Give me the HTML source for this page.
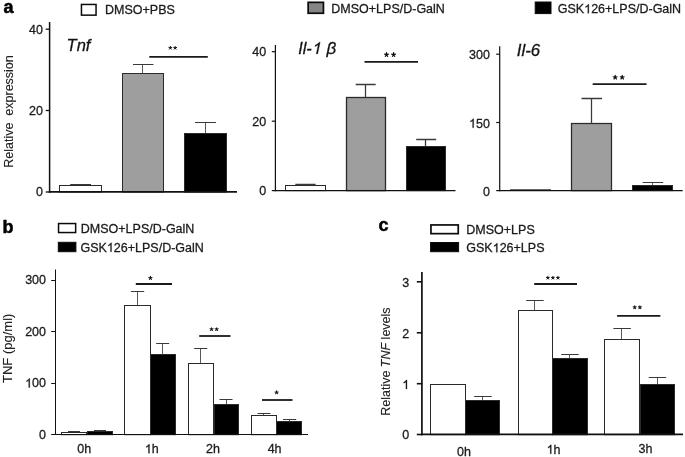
<!DOCTYPE html>
<html><head><meta charset="utf-8"><title>Figure</title>
<style>
html,body{margin:0;padding:0;background:#fff;}
body{width:685px;height:457px;overflow:hidden;font-family:"Liberation Sans",sans-serif;}
svg{display:block;filter:grayscale(1);will-change:transform;font-family:"Liberation Sans",sans-serif;}
</style></head><body>
<svg width="685" height="457" viewBox="0 0 685 457">
<rect width="685" height="457" fill="#fff"/>
<text x="3.60" y="12.9" font-size="18" text-anchor="start" font-style="normal" font-weight="bold" fill="#000" stroke="#000" stroke-width="0.5" >a</text>
<rect x="81.45" y="4.45" width="14.60" height="10.70" fill="#fff" stroke="#0a0a0a" stroke-width="1.5"/>
<text x="105.00" y="14.3" font-size="12.5" text-anchor="start" font-style="normal" font-weight="normal" fill="#1a1a1a" stroke="#1a1a1a" stroke-width="0.28" >DMSO+PBS</text>
<rect x="308.15" y="2.35" width="15.30" height="10.90" fill="#858585" stroke="#0a0a0a" stroke-width="1.7"/>
<text x="331.30" y="13.4" font-size="12.5" text-anchor="start" font-style="normal" font-weight="normal" fill="#1a1a1a" stroke="#1a1a1a" stroke-width="0.28" >DMSO+LPS/D-GalN</text>
<rect x="535.20" y="2.00" width="15.80" height="11.60" fill="#000" stroke="#0a0a0a" stroke-width="1.0"/>
<text x="557.80" y="13.3" font-size="12.5" text-anchor="start" font-style="normal" font-weight="normal" fill="#1a1a1a" stroke="#1a1a1a" stroke-width="0.28" >GSK</text>
<path transform="translate(584.21,13.3) scale(0.00610,-0.00610)" d="M763 0H583V1147Q518 1085 412.5 1023Q307 961 223 930V1104Q374 1175 487 1276Q600 1377 647 1472H763Z" fill="#1a1a1a" stroke="#1a1a1a" stroke-width="45.9"/>
<text x="591.16" y="13.3" font-size="12.5" text-anchor="start" font-style="normal" font-weight="normal" fill="#1a1a1a" stroke="#1a1a1a" stroke-width="0.28" >26+LPS/D-GalN</text>
<text transform="translate(13.3,111.5) rotate(-90)" font-size="12.5" text-anchor="middle" fill="#222" stroke="#222" stroke-width="0.12">Relative&#160; expression</text>
<rect x="59.5" y="185.5" width="42.00" height="6.50" fill="#fff" stroke="#2a2a2a" stroke-width="1"/>
<line x1="80.5" y1="184.5" x2="80.5" y2="185.5" stroke="#3a3a3a" stroke-width="0.85" stroke-linecap="butt"/>
<line x1="70.2" y1="184.5" x2="91" y2="184.5" stroke="#3a3a3a" stroke-width="1" stroke-linecap="butt"/>
<rect x="122.5" y="73.5" width="41.00" height="118.50" fill="#9e9e9e" stroke="#2a2a2a" stroke-width="1"/>
<line x1="142.5" y1="64.5" x2="142.5" y2="73.5" stroke="#3a3a3a" stroke-width="0.85" stroke-linecap="butt"/>
<line x1="133" y1="64.5" x2="153.5" y2="64.5" stroke="#3a3a3a" stroke-width="1" stroke-linecap="butt"/>
<rect x="184.5" y="133.5" width="42.00" height="58.50" fill="#000" stroke="#2a2a2a" stroke-width="1"/>
<line x1="205.5" y1="122.5" x2="205.5" y2="133.5" stroke="#3a3a3a" stroke-width="0.85" stroke-linecap="butt"/>
<line x1="195" y1="122.5" x2="216" y2="122.5" stroke="#3a3a3a" stroke-width="1" stroke-linecap="butt"/>
<line x1="49.6" y1="22" x2="49.6" y2="192.8" stroke="#111" stroke-width="1.5" stroke-linecap="butt"/>
<line x1="48.75" y1="191.9" x2="237" y2="191.9" stroke="#111" stroke-width="1.9" stroke-linecap="butt"/>
<line x1="45.7" y1="29.2" x2="49.4" y2="29.2" stroke="#111" stroke-width="1.3" stroke-linecap="butt"/>
<text x="43.00" y="33.675" font-size="12.5" text-anchor="end" font-style="normal" font-weight="normal" fill="#1a1a1a" stroke="#1a1a1a" stroke-width="0.28" >40</text>
<line x1="45.7" y1="110.5" x2="49.4" y2="110.5" stroke="#111" stroke-width="1.3" stroke-linecap="butt"/>
<text x="43.00" y="114.975" font-size="12.5" text-anchor="end" font-style="normal" font-weight="normal" fill="#1a1a1a" stroke="#1a1a1a" stroke-width="0.28" >20</text>
<line x1="45.7" y1="192.0" x2="49.4" y2="192.0" stroke="#111" stroke-width="1.3" stroke-linecap="butt"/>
<text x="43.00" y="196.475" font-size="12.5" text-anchor="end" font-style="normal" font-weight="normal" fill="#1a1a1a" stroke="#1a1a1a" stroke-width="0.28" >0</text>
<text x="66.60" y="51.0" font-size="16.5" text-anchor="start" font-style="italic" font-weight="normal" fill="#111" stroke="#111" stroke-width="0.28" >Tnf</text>
<line x1="149.3" y1="56.9" x2="207.8" y2="56.9" stroke="#1a1a1a" stroke-width="1.8" stroke-linecap="butt"/>
<path d="M170.35 47.95L170.35 46.41M170.35 47.95L171.81 47.47M170.35 47.95L171.25 49.19M170.35 47.95L169.45 49.19M170.35 47.95L168.89 47.47" stroke="#111" stroke-width="0.99" stroke-linecap="round" fill="none"/>
<path d="M175.15 47.95L175.15 46.41M175.15 47.95L176.61 47.47M175.15 47.95L176.05 49.19M175.15 47.95L174.25 49.19M175.15 47.95L173.69 47.47" stroke="#111" stroke-width="0.99" stroke-linecap="round" fill="none"/>
<rect x="285.5" y="185.5" width="40.00" height="5.10" fill="#fff" stroke="#2a2a2a" stroke-width="1"/>
<line x1="305.5" y1="184.5" x2="305.5" y2="185.5" stroke="#3a3a3a" stroke-width="1.275" stroke-linecap="butt"/>
<line x1="295.3" y1="184.5" x2="315.6" y2="184.5" stroke="#3a3a3a" stroke-width="1.5" stroke-linecap="butt"/>
<rect x="346.5" y="97.5" width="39.00" height="93.10" fill="#9e9e9e" stroke="#2a2a2a" stroke-width="1.3"/>
<line x1="365.5" y1="84.5" x2="365.5" y2="97.5" stroke="#3a3a3a" stroke-width="1.275" stroke-linecap="butt"/>
<line x1="355.7" y1="84.5" x2="375.7" y2="84.5" stroke="#3a3a3a" stroke-width="1.5" stroke-linecap="butt"/>
<rect x="406.5" y="146.5" width="39.00" height="44.10" fill="#000" stroke="#2a2a2a" stroke-width="1"/>
<line x1="425.5" y1="139.5" x2="425.5" y2="146.5" stroke="#3a3a3a" stroke-width="1.275" stroke-linecap="butt"/>
<line x1="416.2" y1="139.5" x2="436.2" y2="139.5" stroke="#3a3a3a" stroke-width="1.5" stroke-linecap="butt"/>
<line x1="275.4" y1="45.0" x2="275.4" y2="191.2" stroke="#111" stroke-width="1.2" stroke-linecap="butt"/>
<line x1="274.79999999999995" y1="190.6" x2="455.5" y2="190.6" stroke="#111" stroke-width="1.3" stroke-linecap="butt"/>
<line x1="271.8" y1="51.7" x2="275.4" y2="51.7" stroke="#111" stroke-width="1.2" stroke-linecap="butt"/>
<text x="266.20" y="56.48" font-size="12.5" text-anchor="end" font-style="normal" font-weight="normal" fill="#1a1a1a" stroke="#1a1a1a" stroke-width="0.28" >40</text>
<line x1="271.8" y1="121.2" x2="275.4" y2="121.2" stroke="#111" stroke-width="1.2" stroke-linecap="butt"/>
<text x="266.20" y="125.97" font-size="12.5" text-anchor="end" font-style="normal" font-weight="normal" fill="#1a1a1a" stroke="#1a1a1a" stroke-width="0.28" >20</text>
<line x1="271.8" y1="190.6" x2="275.4" y2="190.6" stroke="#111" stroke-width="1.2" stroke-linecap="butt"/>
<text x="266.20" y="195.38" font-size="12.5" text-anchor="end" font-style="normal" font-weight="normal" fill="#1a1a1a" stroke="#1a1a1a" stroke-width="0.28" >0</text>
<text x="298.20" y="53.9" font-size="16.3" text-anchor="start" font-style="italic" font-weight="normal" fill="#111" stroke="#111" stroke-width="0.28" >Il-</text>
<path transform="translate(311.60,53.9) skewX(-12) scale(0.00796,-0.00796)" d="M763 0H583V1147Q518 1085 412.5 1023Q307 961 223 930V1104Q374 1175 487 1276Q600 1377 647 1472H763Z" fill="#111" stroke="#111" stroke-width="35.2"/>
<text x="326.40" y="53.9" font-size="17" text-anchor="start" font-style="italic" font-weight="normal" fill="#111" stroke="#111" stroke-width="0.28" >&#946;</text>
<line x1="364.5" y1="61.9" x2="418" y2="61.9" stroke="#1a1a1a" stroke-width="1.7" stroke-linecap="butt"/>
<path d="M386.50 54.69L386.50 52.71M386.50 54.69L388.38 54.08M386.50 54.69L387.66 56.28M386.50 54.69L385.34 56.28M386.50 54.69L384.62 54.08" stroke="#111" stroke-width="1.25" stroke-linecap="round" fill="none"/>
<path d="M393.60 54.69L393.60 52.71M393.60 54.69L395.48 54.08M393.60 54.69L394.76 56.28M393.60 54.69L392.44 56.28M393.60 54.69L391.72 54.08" stroke="#111" stroke-width="1.25" stroke-linecap="round" fill="none"/>
<line x1="510" y1="189.8" x2="551" y2="189.8" stroke="#111" stroke-width="0.9" stroke-linecap="butt"/>
<rect x="571.5" y="123.5" width="40.00" height="67.10" fill="#9e9e9e" stroke="#2a2a2a" stroke-width="1.25"/>
<line x1="591.5" y1="98.5" x2="591.5" y2="123.5" stroke="#3a3a3a" stroke-width="1.275" stroke-linecap="butt"/>
<line x1="581.5" y1="98.5" x2="602" y2="98.5" stroke="#3a3a3a" stroke-width="1.5" stroke-linecap="butt"/>
<rect x="632.5" y="185.5" width="40.00" height="5.10" fill="#000" stroke="#2a2a2a" stroke-width="1"/>
<line x1="652.5" y1="182.5" x2="652.5" y2="185.5" stroke="#3a3a3a" stroke-width="0.85" stroke-linecap="butt"/>
<line x1="642.7" y1="182.5" x2="663.2" y2="182.5" stroke="#3a3a3a" stroke-width="1" stroke-linecap="butt"/>
<line x1="499.7" y1="46.2" x2="499.7" y2="191.2" stroke="#111" stroke-width="1.2" stroke-linecap="butt"/>
<line x1="499.09999999999997" y1="190.6" x2="682.7" y2="190.6" stroke="#111" stroke-width="1.3" stroke-linecap="butt"/>
<line x1="496.2" y1="54.2" x2="499.7" y2="54.2" stroke="#111" stroke-width="1.2" stroke-linecap="butt"/>
<text x="489.90" y="59.38" font-size="12.5" text-anchor="end" font-style="normal" font-weight="normal" fill="#1a1a1a" stroke="#1a1a1a" stroke-width="0.28" >300</text>
<line x1="496.2" y1="122.5" x2="499.7" y2="122.5" stroke="#111" stroke-width="1.2" stroke-linecap="butt"/>
<path transform="translate(469.04,127.67) scale(0.00610,-0.00610)" d="M763 0H583V1147Q518 1085 412.5 1023Q307 961 223 930V1104Q374 1175 487 1276Q600 1377 647 1472H763Z" fill="#1a1a1a" stroke="#1a1a1a" stroke-width="45.9"/>
<text x="475.99" y="127.67" font-size="12.5" text-anchor="start" font-style="normal" font-weight="normal" fill="#1a1a1a" stroke="#1a1a1a" stroke-width="0.28" >50</text>
<line x1="496.2" y1="190.6" x2="499.7" y2="190.6" stroke="#111" stroke-width="1.2" stroke-linecap="butt"/>
<text x="489.90" y="195.77" font-size="12.5" text-anchor="end" font-style="normal" font-weight="normal" fill="#1a1a1a" stroke="#1a1a1a" stroke-width="0.28" >0</text>
<text x="516.80" y="55.6" font-size="16.8" text-anchor="start" font-style="italic" font-weight="normal" fill="#111" stroke="#111" stroke-width="0.28" >Il-6</text>
<line x1="592.7" y1="84.2" x2="646.5" y2="84.2" stroke="#1a1a1a" stroke-width="1.7" stroke-linecap="butt"/>
<path d="M615.20 77.39L615.20 75.41M615.20 77.39L617.08 76.78M615.20 77.39L616.36 78.98M615.20 77.39L614.04 78.98M615.20 77.39L613.32 76.78" stroke="#111" stroke-width="1.25" stroke-linecap="round" fill="none"/>
<path d="M622.20 77.39L622.20 75.41M622.20 77.39L624.08 76.78M622.20 77.39L623.36 78.98M622.20 77.39L621.04 78.98M622.20 77.39L620.32 76.78" stroke="#111" stroke-width="1.25" stroke-linecap="round" fill="none"/>
<text x="2.60" y="233.3" font-size="18" text-anchor="start" font-style="normal" font-weight="bold" fill="#000" stroke="#000" stroke-width="0.5" >b</text>
<rect x="58.55" y="223.55" width="17.10" height="9.00" fill="#fff" stroke="#0a0a0a" stroke-width="1.5"/>
<text x="80.80" y="232.8" font-size="12.5" text-anchor="start" font-style="normal" font-weight="normal" fill="#1a1a1a" stroke="#1a1a1a" stroke-width="0.28" >DMSO+LPS/D-GalN</text>
<rect x="58.30" y="242.30" width="17.60" height="9.40" fill="#000" stroke="#0a0a0a" stroke-width="1.0"/>
<text x="80.50" y="251.8" font-size="12.5" text-anchor="start" font-style="normal" font-weight="normal" fill="#1a1a1a" stroke="#1a1a1a" stroke-width="0.28" >GSK</text>
<path transform="translate(106.91,251.8) scale(0.00610,-0.00610)" d="M763 0H583V1147Q518 1085 412.5 1023Q307 961 223 930V1104Q374 1175 487 1276Q600 1377 647 1472H763Z" fill="#1a1a1a" stroke="#1a1a1a" stroke-width="45.9"/>
<text x="113.86" y="251.8" font-size="12.5" text-anchor="start" font-style="normal" font-weight="normal" fill="#1a1a1a" stroke="#1a1a1a" stroke-width="0.28" >26+LPS/D-GalN</text>
<text transform="translate(12.4,348.3) rotate(-90)" font-size="13" text-anchor="middle" fill="#222" stroke="#222" stroke-width="0.12">TNF (pg/ml)</text>
<rect x="61.5" y="432.5" width="25.00" height="2.20" fill="#fff" stroke="#2a2a2a" stroke-width="1"/>
<line x1="73.5" y1="431.5" x2="73.5" y2="432.5" stroke="#3a3a3a" stroke-width="0.85" stroke-linecap="butt"/>
<line x1="68" y1="431.5" x2="80" y2="431.5" stroke="#3a3a3a" stroke-width="1" stroke-linecap="butt"/>
<rect x="87.5" y="431.5" width="25.00" height="3.20" fill="#000" stroke="#2a2a2a" stroke-width="1"/>
<line x1="99.5" y1="430.5" x2="99.5" y2="431.5" stroke="#3a3a3a" stroke-width="0.85" stroke-linecap="butt"/>
<line x1="94" y1="430.5" x2="106" y2="430.5" stroke="#3a3a3a" stroke-width="1" stroke-linecap="butt"/>
<rect x="124.5" y="305.5" width="26.00" height="129.20" fill="#fff" stroke="#2a2a2a" stroke-width="1"/>
<line x1="137.5" y1="291.5" x2="137.5" y2="305.5" stroke="#3a3a3a" stroke-width="0.85" stroke-linecap="butt"/>
<line x1="130.9" y1="291.5" x2="144.2" y2="291.5" stroke="#3a3a3a" stroke-width="1" stroke-linecap="butt"/>
<rect x="150.5" y="354.5" width="25.00" height="80.20" fill="#000" stroke="#2a2a2a" stroke-width="1"/>
<line x1="162.5" y1="343.5" x2="162.5" y2="354.5" stroke="#3a3a3a" stroke-width="0.85" stroke-linecap="butt"/>
<line x1="156.2" y1="343.5" x2="169.2" y2="343.5" stroke="#3a3a3a" stroke-width="1" stroke-linecap="butt"/>
<rect x="188.5" y="363.5" width="25.00" height="71.20" fill="#fff" stroke="#2a2a2a" stroke-width="1"/>
<line x1="200.5" y1="348.5" x2="200.5" y2="363.5" stroke="#3a3a3a" stroke-width="0.85" stroke-linecap="butt"/>
<line x1="194.2" y1="348.5" x2="207.3" y2="348.5" stroke="#3a3a3a" stroke-width="1" stroke-linecap="butt"/>
<rect x="214.5" y="404.5" width="24.00" height="30.20" fill="#000" stroke="#2a2a2a" stroke-width="1"/>
<line x1="226.5" y1="399.5" x2="226.5" y2="404.5" stroke="#3a3a3a" stroke-width="0.85" stroke-linecap="butt"/>
<line x1="219.5" y1="399.5" x2="232.5" y2="399.5" stroke="#3a3a3a" stroke-width="1" stroke-linecap="butt"/>
<rect x="251.5" y="415.5" width="25.00" height="19.20" fill="#fff" stroke="#2a2a2a" stroke-width="1"/>
<line x1="263.5" y1="413.5" x2="263.5" y2="415.5" stroke="#3a3a3a" stroke-width="0.85" stroke-linecap="butt"/>
<line x1="257.5" y1="413.5" x2="270.5" y2="413.5" stroke="#3a3a3a" stroke-width="1" stroke-linecap="butt"/>
<rect x="276.5" y="421.5" width="25.00" height="13.20" fill="#000" stroke="#2a2a2a" stroke-width="1"/>
<line x1="289.5" y1="419.5" x2="289.5" y2="421.5" stroke="#3a3a3a" stroke-width="0.85" stroke-linecap="butt"/>
<line x1="283" y1="419.5" x2="296.2" y2="419.5" stroke="#3a3a3a" stroke-width="1" stroke-linecap="butt"/>
<line x1="55.5" y1="269.5" x2="55.5" y2="435.0" stroke="#111" stroke-width="1.05" stroke-linecap="butt"/>
<line x1="55.0" y1="434.5" x2="308" y2="434.5" stroke="#111" stroke-width="1.1" stroke-linecap="butt"/>
<line x1="51.2" y1="280.5" x2="55.5" y2="280.5" stroke="#111" stroke-width="1.0" stroke-linecap="butt"/>
<text x="46.00" y="284.475" font-size="12.5" text-anchor="end" font-style="normal" font-weight="normal" fill="#1a1a1a" stroke="#1a1a1a" stroke-width="0.28" >300</text>
<line x1="51.2" y1="331.5" x2="55.5" y2="331.5" stroke="#111" stroke-width="1.0" stroke-linecap="butt"/>
<text x="46.00" y="335.875" font-size="12.5" text-anchor="end" font-style="normal" font-weight="normal" fill="#1a1a1a" stroke="#1a1a1a" stroke-width="0.28" >200</text>
<line x1="51.2" y1="383.5" x2="55.5" y2="383.5" stroke="#111" stroke-width="1.0" stroke-linecap="butt"/>
<path transform="translate(25.14,387.475) scale(0.00610,-0.00610)" d="M763 0H583V1147Q518 1085 412.5 1023Q307 961 223 930V1104Q374 1175 487 1276Q600 1377 647 1472H763Z" fill="#1a1a1a" stroke="#1a1a1a" stroke-width="45.9"/>
<text x="32.09" y="387.475" font-size="12.5" text-anchor="start" font-style="normal" font-weight="normal" fill="#1a1a1a" stroke="#1a1a1a" stroke-width="0.28" >00</text>
<line x1="51.2" y1="434.5" x2="55.5" y2="434.5" stroke="#111" stroke-width="1.0" stroke-linecap="butt"/>
<text x="46.00" y="439.175" font-size="12.5" text-anchor="end" font-style="normal" font-weight="normal" fill="#1a1a1a" stroke="#1a1a1a" stroke-width="0.28" >0</text>
<text x="84.30" y="453.2" font-size="12.5" text-anchor="middle" font-style="normal" font-weight="normal" fill="#1a1a1a" stroke="#1a1a1a" stroke-width="0.28" >0h</text>
<path transform="translate(144.85,453.2) scale(0.00610,-0.00610)" d="M763 0H583V1147Q518 1085 412.5 1023Q307 961 223 930V1104Q374 1175 487 1276Q600 1377 647 1472H763Z" fill="#1a1a1a" stroke="#1a1a1a" stroke-width="45.9"/>
<text x="151.80" y="453.2" font-size="12.5" text-anchor="start" font-style="normal" font-weight="normal" fill="#1a1a1a" stroke="#1a1a1a" stroke-width="0.28" >h</text>
<text x="212.90" y="453.2" font-size="12.5" text-anchor="middle" font-style="normal" font-weight="normal" fill="#1a1a1a" stroke="#1a1a1a" stroke-width="0.28" >2h</text>
<text x="274.60" y="453.2" font-size="12.5" text-anchor="middle" font-style="normal" font-weight="normal" fill="#1a1a1a" stroke="#1a1a1a" stroke-width="0.28" >4h</text>
<line x1="135.8" y1="284.0" x2="172" y2="284.0" stroke="#1a1a1a" stroke-width="1.8" stroke-linecap="butt"/>
<path d="M150.40 277.96L150.40 276.27M150.40 277.96L152.01 277.44M150.40 277.96L151.40 279.33M150.40 277.96L149.40 279.33M150.40 277.96L148.79 277.44" stroke="#111" stroke-width="1.08" stroke-linecap="round" fill="none"/>
<line x1="199.2" y1="336.0" x2="230.5" y2="336.0" stroke="#1a1a1a" stroke-width="1.8" stroke-linecap="butt"/>
<path d="M211.55 329.25L211.55 327.64M211.55 329.25L213.08 328.75M211.55 329.25L212.50 330.56M211.55 329.25L210.60 330.56M211.55 329.25L210.02 328.75" stroke="#111" stroke-width="1.03" stroke-linecap="round" fill="none"/>
<path d="M216.65 329.25L216.65 327.64M216.65 329.25L218.18 328.75M216.65 329.25L217.60 330.56M216.65 329.25L215.70 330.56M216.65 329.25L215.12 328.75" stroke="#111" stroke-width="1.03" stroke-linecap="round" fill="none"/>
<line x1="262" y1="400.0" x2="292.5" y2="400.0" stroke="#1a1a1a" stroke-width="1.8" stroke-linecap="butt"/>
<path d="M276.60 392.46L276.60 390.80M276.60 392.46L278.17 391.95M276.60 392.46L277.57 393.79M276.60 392.46L275.63 393.79M276.60 392.46L275.03 391.95" stroke="#111" stroke-width="1.06" stroke-linecap="round" fill="none"/>
<text x="378.50" y="231.4" font-size="18" text-anchor="start" font-style="normal" font-weight="bold" fill="#000" stroke="#000" stroke-width="0.5" >c</text>
<rect x="430.95" y="224.95" width="27.30" height="8.70" fill="#fff" stroke="#0a0a0a" stroke-width="1.7"/>
<text x="466.30" y="234.0" font-size="12.5" text-anchor="start" font-style="normal" font-weight="normal" fill="#1a1a1a" stroke="#1a1a1a" stroke-width="0.28" >DMSO+LPS</text>
<rect x="430.60" y="242.50" width="28.00" height="9.20" fill="#000" stroke="#0a0a0a" stroke-width="1.0"/>
<text x="466.30" y="252.2" font-size="12.5" text-anchor="start" font-style="normal" font-weight="normal" fill="#1a1a1a" stroke="#1a1a1a" stroke-width="0.28" >GSK</text>
<path transform="translate(492.71,252.2) scale(0.00610,-0.00610)" d="M763 0H583V1147Q518 1085 412.5 1023Q307 961 223 930V1104Q374 1175 487 1276Q600 1377 647 1472H763Z" fill="#1a1a1a" stroke="#1a1a1a" stroke-width="45.9"/>
<text x="499.66" y="252.2" font-size="12.5" text-anchor="start" font-style="normal" font-weight="normal" fill="#1a1a1a" stroke="#1a1a1a" stroke-width="0.28" >26+LPS</text>
<text transform="translate(390.3,361.6) rotate(-90)" font-size="12.5" text-anchor="middle" fill="#222" stroke="#222" stroke-width="0.12">Relative <tspan font-style="italic">TNF</tspan> levels</text>
<rect x="430.5" y="384.5" width="35.00" height="50.20" fill="#fff" stroke="#2a2a2a" stroke-width="1"/>
<rect x="465.5" y="400.5" width="34.00" height="34.20" fill="#000" stroke="#2a2a2a" stroke-width="1"/>
<line x1="482.5" y1="396.5" x2="482.5" y2="400.5" stroke="#3a3a3a" stroke-width="0.85" stroke-linecap="butt"/>
<line x1="474.2" y1="396.5" x2="491.7" y2="396.5" stroke="#3a3a3a" stroke-width="1" stroke-linecap="butt"/>
<rect x="518.5" y="310.5" width="34.00" height="124.20" fill="#fff" stroke="#2a2a2a" stroke-width="1"/>
<line x1="534.5" y1="300.5" x2="534.5" y2="310.5" stroke="#3a3a3a" stroke-width="0.85" stroke-linecap="butt"/>
<line x1="526.2" y1="300.5" x2="543.7" y2="300.5" stroke="#3a3a3a" stroke-width="1" stroke-linecap="butt"/>
<rect x="552.5" y="358.5" width="35.00" height="76.20" fill="#000" stroke="#2a2a2a" stroke-width="1"/>
<line x1="569.5" y1="354.5" x2="569.5" y2="358.5" stroke="#3a3a3a" stroke-width="0.85" stroke-linecap="butt"/>
<line x1="561.2" y1="354.5" x2="578.7" y2="354.5" stroke="#3a3a3a" stroke-width="1" stroke-linecap="butt"/>
<rect x="604.5" y="339.5" width="35.00" height="95.20" fill="#fff" stroke="#2a2a2a" stroke-width="1"/>
<line x1="621.5" y1="328.5" x2="621.5" y2="339.5" stroke="#3a3a3a" stroke-width="0.85" stroke-linecap="butt"/>
<line x1="613.4" y1="328.5" x2="630.9" y2="328.5" stroke="#3a3a3a" stroke-width="1" stroke-linecap="butt"/>
<rect x="640.5" y="384.5" width="34.00" height="50.20" fill="#000" stroke="#2a2a2a" stroke-width="1"/>
<line x1="657.5" y1="377.5" x2="657.5" y2="384.5" stroke="#3a3a3a" stroke-width="0.85" stroke-linecap="butt"/>
<line x1="648.7" y1="377.5" x2="666.2" y2="377.5" stroke="#3a3a3a" stroke-width="1" stroke-linecap="butt"/>
<line x1="421.9" y1="272.0" x2="421.9" y2="435.25" stroke="#111" stroke-width="1.7" stroke-linecap="butt"/>
<line x1="421.05" y1="434.4" x2="683" y2="434.4" stroke="#111" stroke-width="1.7" stroke-linecap="butt"/>
<line x1="416.8" y1="281.8" x2="422.2" y2="281.8" stroke="#111" stroke-width="1.6" stroke-linecap="butt"/>
<text x="409.30" y="287.38" font-size="12.5" text-anchor="end" font-style="normal" font-weight="normal" fill="#1a1a1a" stroke="#1a1a1a" stroke-width="0.28" >3</text>
<line x1="416.8" y1="332.8" x2="422.2" y2="332.8" stroke="#111" stroke-width="1.6" stroke-linecap="butt"/>
<text x="409.30" y="337.98" font-size="12.5" text-anchor="end" font-style="normal" font-weight="normal" fill="#1a1a1a" stroke="#1a1a1a" stroke-width="0.28" >2</text>
<line x1="416.8" y1="383.7" x2="422.2" y2="383.7" stroke="#111" stroke-width="1.6" stroke-linecap="butt"/>
<path transform="translate(402.35,388.88) scale(0.00610,-0.00610)" d="M763 0H583V1147Q518 1085 412.5 1023Q307 961 223 930V1104Q374 1175 487 1276Q600 1377 647 1472H763Z" fill="#1a1a1a" stroke="#1a1a1a" stroke-width="45.9"/>
<line x1="416.8" y1="434.5" x2="422.2" y2="434.5" stroke="#111" stroke-width="1.6" stroke-linecap="butt"/>
<text x="409.30" y="439.18" font-size="12.5" text-anchor="end" font-style="normal" font-weight="normal" fill="#1a1a1a" stroke="#1a1a1a" stroke-width="0.28" >0</text>
<text x="463.90" y="455.6" font-size="12.5" text-anchor="middle" font-style="normal" font-weight="normal" fill="#1a1a1a" stroke="#1a1a1a" stroke-width="0.28" >0h</text>
<path transform="translate(546.65,453.8) scale(0.00610,-0.00610)" d="M763 0H583V1147Q518 1085 412.5 1023Q307 961 223 930V1104Q374 1175 487 1276Q600 1377 647 1472H763Z" fill="#1a1a1a" stroke="#1a1a1a" stroke-width="45.9"/>
<text x="553.60" y="453.8" font-size="12.5" text-anchor="start" font-style="normal" font-weight="normal" fill="#1a1a1a" stroke="#1a1a1a" stroke-width="0.28" >h</text>
<text x="645.40" y="453.1" font-size="12.5" text-anchor="middle" font-style="normal" font-weight="normal" fill="#1a1a1a" stroke="#1a1a1a" stroke-width="0.28" >3h</text>
<line x1="534.2" y1="284.0" x2="577" y2="284.0" stroke="#1a1a1a" stroke-width="1.9" stroke-linecap="butt"/>
<path d="M547.85 277.85L547.85 276.31M547.85 277.85L549.31 277.37M547.85 277.85L548.75 279.09M547.85 277.85L546.95 279.09M547.85 277.85L546.39 277.37" stroke="#111" stroke-width="0.99" stroke-linecap="round" fill="none"/>
<path d="M552.90 277.85L552.90 276.31M552.90 277.85L554.36 277.37M552.90 277.85L553.80 279.09M552.90 277.85L552.00 279.09M552.90 277.85L551.44 277.37" stroke="#111" stroke-width="0.99" stroke-linecap="round" fill="none"/>
<path d="M557.95 277.85L557.95 276.31M557.95 277.85L559.41 277.37M557.95 277.85L558.85 279.09M557.95 277.85L557.05 279.09M557.95 277.85L556.49 277.37" stroke="#111" stroke-width="0.99" stroke-linecap="round" fill="none"/>
<line x1="617.1" y1="315.9" x2="660.4" y2="315.9" stroke="#1a1a1a" stroke-width="1.9" stroke-linecap="butt"/>
<path d="M634.70 307.35L634.70 305.74M634.70 307.35L636.23 306.85M634.70 307.35L635.65 308.66M634.70 307.35L633.75 308.66M634.70 307.35L633.17 306.85" stroke="#111" stroke-width="1.03" stroke-linecap="round" fill="none"/>
<path d="M639.90 307.35L639.90 305.74M639.90 307.35L641.43 306.85M639.90 307.35L640.85 308.66M639.90 307.35L638.95 308.66M639.90 307.35L638.37 306.85" stroke="#111" stroke-width="1.03" stroke-linecap="round" fill="none"/>
</svg>
</body></html>
